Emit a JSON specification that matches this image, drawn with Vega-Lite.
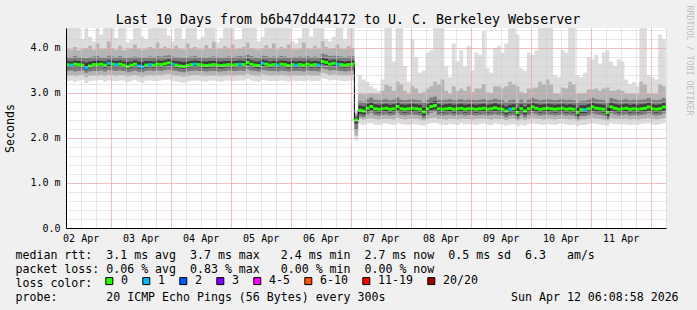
{
"$schema": "https://vega.github.io/schema/vega-lite/v6.json",
"width": 600, "height": 200,
"autosize": {"type": "none"},
"padding": {"left": 66, "top": 28, "right": 31, "bottom": 82},
"background": "#f0f0f0",
"title": {"text": "Last 10 Days from b6b47dd44172 to U. C. Berkeley Webserver", "font": "DejaVu Sans Mono", "fontSize": 13.3, "fontWeight": "normal", "color": "black", "anchor": "middle", "dx": -18, "dy": 32, "baseline": "alphabetic", "offset": 0},
"data": {"values": [
{"t":"2026-04-02T06:00:00Z","m":3.63,"l":"0","a":3.26,"b":3.38,"c":3.49,"d":3.57,"e":3.71,"f":3.8,"g":3.98,"h":4.5},
{"t":"2026-04-02T07:30:00Z","m":3.62,"l":"1","a":3.28,"b":3.39,"c":3.5,"d":3.57,"e":3.7,"f":3.79,"g":3.96,"h":4.5},
{"t":"2026-04-02T09:00:00Z","m":3.64,"l":"0","a":3.25,"b":3.37,"c":3.48,"d":3.58,"e":3.72,"f":3.82,"g":4.02,"h":4.5},
{"t":"2026-04-02T10:30:00Z","m":3.63,"l":"0","a":3.27,"b":3.39,"c":3.49,"d":3.57,"e":3.71,"f":3.8,"g":3.95,"h":4.5},
{"t":"2026-04-02T12:00:00Z","m":3.62,"l":"0","a":3.29,"b":3.4,"c":3.5,"d":3.57,"e":3.7,"f":3.79,"g":3.97,"h":4.2},
{"t":"2026-04-02T13:30:00Z","m":3.56,"l":"1","a":3.22,"b":3.35,"c":3.45,"d":3.51,"e":3.68,"f":3.78,"g":3.99,"h":4.5},
{"t":"2026-04-02T15:00:00Z","m":3.6,"l":"0","a":3.26,"b":3.38,"c":3.48,"d":3.55,"e":3.7,"f":3.8,"g":4.05,"h":4.25},
{"t":"2026-04-02T16:30:00Z","m":3.63,"l":"0","a":3.28,"b":3.39,"c":3.49,"d":3.57,"e":3.71,"f":3.81,"g":3.96,"h":4.15},
{"t":"2026-04-02T18:00:00Z","m":3.63,"l":"0","a":3.27,"b":3.38,"c":3.49,"d":3.57,"e":3.72,"f":3.82,"g":4.1,"h":4.5},
{"t":"2026-04-02T19:30:00Z","m":3.64,"l":"0","a":3.29,"b":3.4,"c":3.5,"d":3.58,"e":3.71,"f":3.8,"g":3.97,"h":4.3},
{"t":"2026-04-02T21:00:00Z","m":3.62,"l":"0","a":3.25,"b":3.37,"c":3.48,"d":3.56,"e":3.7,"f":3.79,"g":3.98,"h":4.5},
{"t":"2026-04-02T22:30:00Z","m":3.66,"l":"1","a":3.28,"b":3.4,"c":3.51,"d":3.59,"e":3.73,"f":3.83,"g":4.15,"h":4.5},
{"t":"2026-04-03T00:00:00Z","m":3.64,"l":"0","a":3.27,"b":3.39,"c":3.5,"d":3.58,"e":3.72,"f":3.81,"g":4.0,"h":4.5},
{"t":"2026-04-03T01:30:00Z","m":3.63,"l":"1","a":3.26,"b":3.38,"c":3.49,"d":3.57,"e":3.71,"f":3.8,"g":3.96,"h":4.22},
{"t":"2026-04-03T03:00:00Z","m":3.64,"l":"0","a":3.28,"b":3.4,"c":3.5,"d":3.58,"e":3.72,"f":3.82,"g":4.05,"h":4.5},
{"t":"2026-04-03T04:30:00Z","m":3.62,"l":"0","a":3.27,"b":3.39,"c":3.49,"d":3.57,"e":3.7,"f":3.79,"g":3.95,"h":4.5},
{"t":"2026-04-03T06:00:00Z","m":3.59,"l":"0","a":3.24,"b":3.36,"c":3.46,"d":3.54,"e":3.69,"f":3.79,"g":3.97,"h":4.12},
{"t":"2026-04-03T07:30:00Z","m":3.62,"l":"0","a":3.26,"b":3.38,"c":3.48,"d":3.56,"e":3.7,"f":3.8,"g":3.99,"h":4.18},
{"t":"2026-04-03T09:00:00Z","m":3.64,"l":"0","a":3.29,"b":3.4,"c":3.5,"d":3.58,"e":3.72,"f":3.81,"g":4.08,"h":4.5},
{"t":"2026-04-03T10:30:00Z","m":3.6,"l":"1","a":3.25,"b":3.37,"c":3.47,"d":3.55,"e":3.7,"f":3.8,"g":3.98,"h":4.5},
{"t":"2026-04-03T12:00:00Z","m":3.58,"l":"1","a":3.23,"b":3.35,"c":3.46,"d":3.53,"e":3.69,"f":3.79,"g":3.96,"h":4.25},
{"t":"2026-04-03T13:30:00Z","m":3.62,"l":"0","a":3.27,"b":3.38,"c":3.49,"d":3.56,"e":3.71,"f":3.8,"g":3.97,"h":4.2},
{"t":"2026-04-03T15:00:00Z","m":3.63,"l":"1","a":3.28,"b":3.39,"c":3.5,"d":3.57,"e":3.71,"f":3.81,"g":4.02,"h":4.5},
{"t":"2026-04-03T16:30:00Z","m":3.62,"l":"0","a":3.26,"b":3.38,"c":3.49,"d":3.56,"e":3.7,"f":3.8,"g":3.98,"h":4.5},
{"t":"2026-04-03T18:00:00Z","m":3.64,"l":"0","a":3.27,"b":3.4,"c":3.5,"d":3.58,"e":3.72,"f":3.82,"g":4.12,"h":4.5},
{"t":"2026-04-03T19:30:00Z","m":3.63,"l":"0","a":3.28,"b":3.39,"c":3.49,"d":3.57,"e":3.71,"f":3.81,"g":3.99,"h":4.5},
{"t":"2026-04-03T21:00:00Z","m":3.65,"l":"0","a":3.29,"b":3.41,"c":3.51,"d":3.59,"e":3.73,"f":3.83,"g":4.03,"h":4.5},
{"t":"2026-04-03T22:30:00Z","m":3.67,"l":"0","a":3.3,"b":3.42,"c":3.52,"d":3.61,"e":3.75,"f":3.84,"g":4.0,"h":4.28},
{"t":"2026-04-04T00:00:00Z","m":3.64,"l":"1","a":3.27,"b":3.39,"c":3.5,"d":3.58,"e":3.72,"f":3.81,"g":3.97,"h":4.15},
{"t":"2026-04-04T01:30:00Z","m":3.62,"l":"0","a":3.26,"b":3.38,"c":3.49,"d":3.56,"e":3.71,"f":3.8,"g":4.05,"h":4.5},
{"t":"2026-04-04T03:00:00Z","m":3.6,"l":"0","a":3.24,"b":3.37,"c":3.47,"d":3.55,"e":3.7,"f":3.8,"g":3.98,"h":4.5},
{"t":"2026-04-04T04:30:00Z","m":3.59,"l":"0","a":3.23,"b":3.36,"c":3.46,"d":3.54,"e":3.69,"f":3.79,"g":3.96,"h":4.2},
{"t":"2026-04-04T06:00:00Z","m":3.61,"l":"0","a":3.25,"b":3.37,"c":3.48,"d":3.56,"e":3.7,"f":3.8,"g":4.1,"h":4.5},
{"t":"2026-04-04T07:30:00Z","m":3.63,"l":"0","a":3.27,"b":3.39,"c":3.49,"d":3.57,"e":3.71,"f":3.81,"g":3.99,"h":4.5},
{"t":"2026-04-04T09:00:00Z","m":3.64,"l":"1","a":3.28,"b":3.4,"c":3.5,"d":3.58,"e":3.72,"f":3.82,"g":4.02,"h":4.5},
{"t":"2026-04-04T10:30:00Z","m":3.63,"l":"0","a":3.27,"b":3.39,"c":3.49,"d":3.57,"e":3.71,"f":3.8,"g":3.97,"h":4.18},
{"t":"2026-04-04T12:00:00Z","m":3.62,"l":"0","a":3.26,"b":3.38,"c":3.49,"d":3.56,"e":3.7,"f":3.8,"g":3.96,"h":4.25},
{"t":"2026-04-04T13:30:00Z","m":3.61,"l":"0","a":3.25,"b":3.37,"c":3.48,"d":3.55,"e":3.7,"f":3.79,"g":4.06,"h":4.5},
{"t":"2026-04-04T15:00:00Z","m":3.62,"l":"0","a":3.27,"b":3.38,"c":3.49,"d":3.56,"e":3.71,"f":3.8,"g":3.98,"h":4.5},
{"t":"2026-04-04T16:30:00Z","m":3.63,"l":"0","a":3.28,"b":3.39,"c":3.49,"d":3.57,"e":3.71,"f":3.81,"g":4.14,"h":4.5},
{"t":"2026-04-04T18:00:00Z","m":3.62,"l":"0","a":3.26,"b":3.38,"c":3.48,"d":3.56,"e":3.7,"f":3.8,"g":3.97,"h":4.12},
{"t":"2026-04-04T19:30:00Z","m":3.61,"l":"0","a":3.25,"b":3.37,"c":3.48,"d":3.55,"e":3.7,"f":3.79,"g":3.98,"h":4.22},
{"t":"2026-04-04T21:00:00Z","m":3.62,"l":"0","a":3.27,"b":3.38,"c":3.49,"d":3.56,"e":3.71,"f":3.8,"g":4.04,"h":4.5},
{"t":"2026-04-04T22:30:00Z","m":3.63,"l":"0","a":3.28,"b":3.39,"c":3.5,"d":3.57,"e":3.71,"f":3.81,"g":3.99,"h":4.5},
{"t":"2026-04-05T00:00:00Z","m":3.62,"l":"0","a":3.26,"b":3.38,"c":3.49,"d":3.56,"e":3.7,"f":3.8,"g":4.08,"h":4.5},
{"t":"2026-04-05T01:30:00Z","m":3.63,"l":"0","a":3.27,"b":3.39,"c":3.49,"d":3.57,"e":3.71,"f":3.81,"g":3.97,"h":4.18},
{"t":"2026-04-05T03:00:00Z","m":3.64,"l":"1","a":3.28,"b":3.4,"c":3.5,"d":3.58,"e":3.72,"f":3.82,"g":3.98,"h":4.2},
{"t":"2026-04-05T04:30:00Z","m":3.63,"l":"0","a":3.27,"b":3.39,"c":3.49,"d":3.57,"e":3.71,"f":3.81,"g":4.02,"h":4.5},
{"t":"2026-04-05T06:00:00Z","m":3.68,"l":"0","a":3.31,"b":3.43,"c":3.53,"d":3.62,"e":3.76,"f":3.85,"g":4.12,"h":4.5},
{"t":"2026-04-05T07:30:00Z","m":3.64,"l":"0","a":3.28,"b":3.4,"c":3.5,"d":3.58,"e":3.72,"f":3.82,"g":4.0,"h":4.5},
{"t":"2026-04-05T09:00:00Z","m":3.62,"l":"0","a":3.26,"b":3.38,"c":3.49,"d":3.56,"e":3.7,"f":3.8,"g":3.97,"h":4.5},
{"t":"2026-04-05T10:30:00Z","m":3.61,"l":"0","a":3.25,"b":3.37,"c":3.48,"d":3.55,"e":3.7,"f":3.79,"g":3.96,"h":4.15},
{"t":"2026-04-05T12:00:00Z","m":3.66,"l":"1","a":3.29,"b":3.41,"c":3.51,"d":3.6,"e":3.74,"f":3.83,"g":3.99,"h":4.25},
{"t":"2026-04-05T13:30:00Z","m":3.64,"l":"0","a":3.28,"b":3.4,"c":3.5,"d":3.58,"e":3.72,"f":3.82,"g":4.06,"h":4.5},
{"t":"2026-04-05T15:00:00Z","m":3.62,"l":"0","a":3.26,"b":3.38,"c":3.49,"d":3.56,"e":3.7,"f":3.8,"g":3.98,"h":4.5},
{"t":"2026-04-05T16:30:00Z","m":3.63,"l":"0","a":3.27,"b":3.39,"c":3.49,"d":3.57,"e":3.71,"f":3.81,"g":4.1,"h":4.5},
{"t":"2026-04-05T18:00:00Z","m":3.62,"l":"1","a":3.26,"b":3.38,"c":3.48,"d":3.56,"e":3.7,"f":3.8,"g":3.97,"h":4.5},
{"t":"2026-04-05T19:30:00Z","m":3.64,"l":"0","a":3.28,"b":3.4,"c":3.5,"d":3.58,"e":3.72,"f":3.82,"g":4.03,"h":4.5},
{"t":"2026-04-05T21:00:00Z","m":3.63,"l":"0","a":3.27,"b":3.39,"c":3.49,"d":3.57,"e":3.71,"f":3.81,"g":3.99,"h":4.5},
{"t":"2026-04-05T22:30:00Z","m":3.61,"l":"0","a":3.25,"b":3.37,"c":3.48,"d":3.55,"e":3.7,"f":3.79,"g":4.08,"h":4.5},
{"t":"2026-04-06T00:00:00Z","m":3.63,"l":"0","a":3.27,"b":3.39,"c":3.49,"d":3.57,"e":3.71,"f":3.8,"g":3.97,"h":4.15},
{"t":"2026-04-06T01:30:00Z","m":3.62,"l":"1","a":3.26,"b":3.38,"c":3.49,"d":3.56,"e":3.7,"f":3.8,"g":3.96,"h":4.1},
{"t":"2026-04-06T03:00:00Z","m":3.63,"l":"0","a":3.27,"b":3.39,"c":3.49,"d":3.57,"e":3.71,"f":3.81,"g":3.98,"h":4.22},
{"t":"2026-04-06T04:30:00Z","m":3.62,"l":"0","a":3.26,"b":3.38,"c":3.48,"d":3.56,"e":3.7,"f":3.8,"g":4.12,"h":4.5},
{"t":"2026-04-06T06:00:00Z","m":3.64,"l":"0","a":3.28,"b":3.4,"c":3.5,"d":3.58,"e":3.72,"f":3.82,"g":4.0,"h":4.5},
{"t":"2026-04-06T07:30:00Z","m":3.62,"l":"0","a":3.26,"b":3.38,"c":3.49,"d":3.56,"e":3.7,"f":3.8,"g":3.97,"h":4.25},
{"t":"2026-04-06T09:00:00Z","m":3.63,"l":"0","a":3.27,"b":3.39,"c":3.49,"d":3.57,"e":3.71,"f":3.81,"g":4.05,"h":4.5},
{"t":"2026-04-06T10:30:00Z","m":3.62,"l":"1","a":3.26,"b":3.38,"c":3.48,"d":3.56,"e":3.7,"f":3.8,"g":3.98,"h":4.5},
{"t":"2026-04-06T12:00:00Z","m":3.7,"l":"0","a":3.33,"b":3.45,"c":3.55,"d":3.64,"e":3.78,"f":3.87,"g":4.15,"h":4.5},
{"t":"2026-04-06T13:30:00Z","m":3.68,"l":"0","a":3.31,"b":3.43,"c":3.53,"d":3.62,"e":3.76,"f":3.85,"g":4.02,"h":4.2},
{"t":"2026-04-06T15:00:00Z","m":3.64,"l":"0","a":3.28,"b":3.4,"c":3.5,"d":3.58,"e":3.72,"f":3.82,"g":3.99,"h":4.15},
{"t":"2026-04-06T16:30:00Z","m":3.66,"l":"0","a":3.29,"b":3.41,"c":3.51,"d":3.6,"e":3.74,"f":3.83,"g":4.0,"h":4.25},
{"t":"2026-04-06T18:00:00Z","m":3.64,"l":"1","a":3.28,"b":3.4,"c":3.5,"d":3.58,"e":3.72,"f":3.82,"g":4.08,"h":4.5},
{"t":"2026-04-06T19:30:00Z","m":3.63,"l":"0","a":3.27,"b":3.39,"c":3.49,"d":3.57,"e":3.71,"f":3.81,"g":3.98,"h":4.5},
{"t":"2026-04-06T21:00:00Z","m":3.62,"l":"0","a":3.26,"b":3.38,"c":3.48,"d":3.56,"e":3.7,"f":3.8,"g":3.97,"h":4.2},
{"t":"2026-04-06T22:30:00Z","m":3.63,"l":"0","a":3.27,"b":3.39,"c":3.49,"d":3.57,"e":3.71,"f":3.81,"g":4.04,"h":4.5},
{"t":"2026-04-07T00:00:00Z","m":3.64,"l":"0","a":3.28,"b":3.4,"c":3.5,"d":3.58,"e":3.72,"f":3.82,"g":4.0,"h":4.5},
{"t":"2026-04-07T01:30:00Z","m":2.4,"l":"0","a":1.95,"b":2.05,"c":2.18,"d":2.32,"e":2.45,"f":2.5,"g":2.55,"h":2.6},
{"t":"2026-04-07T03:00:00Z","m":2.62,"l":"0","a":2.31,"b":2.42,"c":2.48,"d":2.54,"e":2.72,"f":2.82,"g":2.98,"h":3.4},
{"t":"2026-04-07T04:30:00Z","m":2.6,"l":"0","a":2.29,"b":2.41,"c":2.46,"d":2.52,"e":2.7,"f":2.8,"g":2.97,"h":3.3},
{"t":"2026-04-07T06:00:00Z","m":2.66,"l":"0","a":2.32,"b":2.43,"c":2.52,"d":2.58,"e":2.76,"f":2.86,"g":2.99,"h":3.25},
{"t":"2026-04-07T07:30:00Z","m":2.7,"l":"0","a":2.33,"b":2.44,"c":2.56,"d":2.62,"e":2.8,"f":2.9,"g":3.0,"h":3.15},
{"t":"2026-04-07T09:00:00Z","m":2.65,"l":"0","a":2.3,"b":2.42,"c":2.51,"d":2.57,"e":2.75,"f":2.85,"g":2.98,"h":3.1},
{"t":"2026-04-07T10:30:00Z","m":2.64,"l":"0","a":2.29,"b":2.41,"c":2.5,"d":2.56,"e":2.74,"f":2.84,"g":2.97,"h":3.05},
{"t":"2026-04-07T12:00:00Z","m":2.65,"l":"0","a":2.31,"b":2.42,"c":2.51,"d":2.57,"e":2.75,"f":2.85,"g":3.05,"h":3.3},
{"t":"2026-04-07T13:30:00Z","m":2.66,"l":"0","a":2.32,"b":2.43,"c":2.52,"d":2.58,"e":2.76,"f":2.86,"g":3.2,"h":4.5},
{"t":"2026-04-07T15:00:00Z","m":2.64,"l":"0","a":2.3,"b":2.42,"c":2.5,"d":2.56,"e":2.74,"f":2.84,"g":3.15,"h":4.5},
{"t":"2026-04-07T16:30:00Z","m":2.65,"l":"0","a":2.29,"b":2.41,"c":2.51,"d":2.57,"e":2.75,"f":2.85,"g":3.05,"h":3.7},
{"t":"2026-04-07T18:00:00Z","m":2.7,"l":"0","a":2.33,"b":2.45,"c":2.56,"d":2.62,"e":2.8,"f":2.9,"g":3.25,"h":4.5},
{"t":"2026-04-07T19:30:00Z","m":2.65,"l":"0","a":2.31,"b":2.42,"c":2.51,"d":2.57,"e":2.75,"f":2.85,"g":3.2,"h":4.5},
{"t":"2026-04-07T21:00:00Z","m":2.64,"l":"0","a":2.3,"b":2.41,"c":2.5,"d":2.56,"e":2.74,"f":2.84,"g":3.05,"h":3.6},
{"t":"2026-04-07T22:30:00Z","m":2.65,"l":"0","a":2.29,"b":2.42,"c":2.51,"d":2.57,"e":2.75,"f":2.85,"g":2.98,"h":3.25},
{"t":"2026-04-08T00:00:00Z","m":2.66,"l":"0","a":2.31,"b":2.43,"c":2.52,"d":2.58,"e":2.76,"f":2.86,"g":3.15,"h":4.2},
{"t":"2026-04-08T01:30:00Z","m":2.65,"l":"0","a":2.3,"b":2.42,"c":2.51,"d":2.57,"e":2.75,"f":2.85,"g":3.1,"h":3.8},
{"t":"2026-04-08T03:00:00Z","m":2.64,"l":"0","a":2.29,"b":2.41,"c":2.5,"d":2.56,"e":2.74,"f":2.84,"g":3.0,"h":3.45},
{"t":"2026-04-08T04:30:00Z","m":2.58,"l":"0","a":2.27,"b":2.39,"c":2.44,"d":2.5,"e":2.68,"f":2.8,"g":3.02,"h":3.5},
{"t":"2026-04-08T06:00:00Z","m":2.65,"l":"0","a":2.31,"b":2.42,"c":2.51,"d":2.57,"e":2.75,"f":2.85,"g":3.1,"h":3.9},
{"t":"2026-04-08T07:30:00Z","m":2.7,"l":"0","a":2.33,"b":2.44,"c":2.56,"d":2.62,"e":2.8,"f":2.9,"g":3.15,"h":3.95},
{"t":"2026-04-08T09:00:00Z","m":2.72,"l":"0","a":2.34,"b":2.45,"c":2.58,"d":2.64,"e":2.82,"f":2.92,"g":3.25,"h":4.5},
{"t":"2026-04-08T10:30:00Z","m":2.65,"l":"0","a":2.31,"b":2.42,"c":2.51,"d":2.57,"e":2.75,"f":2.85,"g":3.2,"h":4.5},
{"t":"2026-04-08T12:00:00Z","m":2.64,"l":"0","a":2.3,"b":2.42,"c":2.5,"d":2.56,"e":2.74,"f":2.84,"g":3.3,"h":4.5},
{"t":"2026-04-08T13:30:00Z","m":2.65,"l":"0","a":2.29,"b":2.41,"c":2.51,"d":2.57,"e":2.75,"f":2.85,"g":3.05,"h":3.6},
{"t":"2026-04-08T15:00:00Z","m":2.66,"l":"0","a":2.31,"b":2.43,"c":2.52,"d":2.58,"e":2.76,"f":2.86,"g":2.99,"h":3.35},
{"t":"2026-04-08T16:30:00Z","m":2.64,"l":"0","a":2.3,"b":2.42,"c":2.5,"d":2.56,"e":2.74,"f":2.84,"g":3.15,"h":4.1},
{"t":"2026-04-08T18:00:00Z","m":2.65,"l":"0","a":2.29,"b":2.41,"c":2.51,"d":2.57,"e":2.75,"f":2.85,"g":3.05,"h":3.7},
{"t":"2026-04-08T19:30:00Z","m":2.66,"l":"0","a":2.32,"b":2.43,"c":2.52,"d":2.58,"e":2.76,"f":2.86,"g":3.1,"h":3.95},
{"t":"2026-04-08T21:00:00Z","m":2.64,"l":"0","a":2.3,"b":2.42,"c":2.5,"d":2.56,"e":2.74,"f":2.84,"g":3.05,"h":3.6},
{"t":"2026-04-08T22:30:00Z","m":2.65,"l":"0","a":2.31,"b":2.42,"c":2.51,"d":2.57,"e":2.75,"f":2.85,"g":3.15,"h":4.05},
{"t":"2026-04-09T00:00:00Z","m":2.65,"l":"0","a":2.3,"b":2.41,"c":2.51,"d":2.57,"e":2.75,"f":2.85,"g":3.02,"h":3.5},
{"t":"2026-04-09T01:30:00Z","m":2.64,"l":"0","a":2.29,"b":2.42,"c":2.5,"d":2.56,"e":2.74,"f":2.84,"g":3.1,"h":3.9},
{"t":"2026-04-09T03:00:00Z","m":2.65,"l":"0","a":2.31,"b":2.43,"c":2.51,"d":2.57,"e":2.75,"f":2.85,"g":3.1,"h":3.85},
{"t":"2026-04-09T04:30:00Z","m":2.66,"l":"0","a":2.32,"b":2.43,"c":2.52,"d":2.58,"e":2.76,"f":2.86,"g":3.2,"h":4.38},
{"t":"2026-04-09T06:00:00Z","m":2.64,"l":"0","a":2.3,"b":2.42,"c":2.5,"d":2.56,"e":2.74,"f":2.84,"g":3.02,"h":3.55},
{"t":"2026-04-09T07:30:00Z","m":2.65,"l":"0","a":2.29,"b":2.41,"c":2.51,"d":2.57,"e":2.75,"f":2.85,"g":3.0,"h":3.45},
{"t":"2026-04-09T09:00:00Z","m":2.67,"l":"0","a":2.32,"b":2.43,"c":2.53,"d":2.59,"e":2.77,"f":2.87,"g":3.15,"h":4.0},
{"t":"2026-04-09T10:30:00Z","m":2.65,"l":"0","a":2.31,"b":2.42,"c":2.51,"d":2.57,"e":2.75,"f":2.85,"g":3.15,"h":4.05},
{"t":"2026-04-09T12:00:00Z","m":2.64,"l":"0","a":2.3,"b":2.42,"c":2.5,"d":2.56,"e":2.74,"f":2.84,"g":3.1,"h":3.9},
{"t":"2026-04-09T13:30:00Z","m":2.6,"l":"0","a":2.28,"b":2.4,"c":2.46,"d":2.52,"e":2.7,"f":2.8,"g":3.15,"h":4.1},
{"t":"2026-04-09T15:00:00Z","m":2.64,"l":"1","a":2.3,"b":2.42,"c":2.5,"d":2.56,"e":2.74,"f":2.84,"g":3.25,"h":4.5},
{"t":"2026-04-09T16:30:00Z","m":2.65,"l":"0","a":2.31,"b":2.42,"c":2.51,"d":2.57,"e":2.75,"f":2.85,"g":3.2,"h":4.5},
{"t":"2026-04-09T18:00:00Z","m":2.57,"l":"0","a":2.27,"b":2.39,"c":2.43,"d":2.49,"e":2.67,"f":2.79,"g":3.15,"h":4.3},
{"t":"2026-04-09T19:30:00Z","m":2.65,"l":"0","a":2.3,"b":2.42,"c":2.51,"d":2.57,"e":2.75,"f":2.85,"g":3.02,"h":3.55},
{"t":"2026-04-09T21:00:00Z","m":2.6,"l":"0","a":2.28,"b":2.4,"c":2.46,"d":2.52,"e":2.7,"f":2.8,"g":3.0,"h":3.5},
{"t":"2026-04-09T22:30:00Z","m":2.65,"l":"0","a":2.31,"b":2.42,"c":2.51,"d":2.57,"e":2.75,"f":2.85,"g":3.1,"h":3.9},
{"t":"2026-04-10T00:00:00Z","m":2.69,"l":"0","a":2.33,"b":2.44,"c":2.55,"d":2.61,"e":2.79,"f":2.89,"g":3.1,"h":3.85},
{"t":"2026-04-10T01:30:00Z","m":2.66,"l":"0","a":2.31,"b":2.43,"c":2.52,"d":2.58,"e":2.76,"f":2.86,"g":3.12,"h":3.95},
{"t":"2026-04-10T03:00:00Z","m":2.64,"l":"0","a":2.3,"b":2.42,"c":2.5,"d":2.56,"e":2.74,"f":2.84,"g":3.25,"h":4.5},
{"t":"2026-04-10T04:30:00Z","m":2.65,"l":"0","a":2.29,"b":2.41,"c":2.51,"d":2.57,"e":2.75,"f":2.85,"g":3.2,"h":4.5},
{"t":"2026-04-10T06:00:00Z","m":2.66,"l":"0","a":2.31,"b":2.43,"c":2.52,"d":2.58,"e":2.76,"f":2.86,"g":3.3,"h":4.5},
{"t":"2026-04-10T07:30:00Z","m":2.65,"l":"0","a":2.3,"b":2.42,"c":2.51,"d":2.57,"e":2.75,"f":2.85,"g":3.2,"h":4.5},
{"t":"2026-04-10T09:00:00Z","m":2.64,"l":"0","a":2.29,"b":2.41,"c":2.5,"d":2.56,"e":2.74,"f":2.84,"g":2.99,"h":3.4},
{"t":"2026-04-10T10:30:00Z","m":2.65,"l":"0","a":2.31,"b":2.42,"c":2.51,"d":2.57,"e":2.75,"f":2.85,"g":2.98,"h":3.35},
{"t":"2026-04-10T12:00:00Z","m":2.66,"l":"0","a":2.32,"b":2.43,"c":2.52,"d":2.58,"e":2.76,"f":2.86,"g":3.12,"h":3.95},
{"t":"2026-04-10T13:30:00Z","m":2.64,"l":"0","a":2.3,"b":2.42,"c":2.5,"d":2.56,"e":2.74,"f":2.84,"g":3.1,"h":3.9},
{"t":"2026-04-10T15:00:00Z","m":2.65,"l":"0","a":2.29,"b":2.41,"c":2.51,"d":2.57,"e":2.75,"f":2.85,"g":3.25,"h":4.5},
{"t":"2026-04-10T16:30:00Z","m":2.64,"l":"0","a":2.3,"b":2.42,"c":2.5,"d":2.56,"e":2.74,"f":2.84,"g":3.2,"h":4.5},
{"t":"2026-04-10T18:00:00Z","m":2.57,"l":"0","a":2.26,"b":2.38,"c":2.43,"d":2.49,"e":2.67,"f":2.79,"g":2.99,"h":3.4},
{"t":"2026-04-10T19:30:00Z","m":2.63,"l":"0","a":2.29,"b":2.41,"c":2.49,"d":2.55,"e":2.73,"f":2.83,"g":2.98,"h":3.35},
{"t":"2026-04-10T21:00:00Z","m":2.63,"l":"1","a":2.29,"b":2.41,"c":2.49,"d":2.55,"e":2.73,"f":2.83,"g":3.0,"h":3.45},
{"t":"2026-04-10T22:30:00Z","m":2.65,"l":"0","a":2.31,"b":2.42,"c":2.51,"d":2.57,"e":2.75,"f":2.85,"g":3.08,"h":3.8},
{"t":"2026-04-11T00:00:00Z","m":2.69,"l":"0","a":2.33,"b":2.44,"c":2.55,"d":2.61,"e":2.79,"f":2.89,"g":3.08,"h":3.75},
{"t":"2026-04-11T01:30:00Z","m":2.66,"l":"0","a":2.31,"b":2.43,"c":2.52,"d":2.58,"e":2.76,"f":2.86,"g":3.1,"h":3.85},
{"t":"2026-04-11T03:00:00Z","m":2.65,"l":"0","a":2.3,"b":2.42,"c":2.51,"d":2.57,"e":2.75,"f":2.85,"g":3.05,"h":3.65},
{"t":"2026-04-11T04:30:00Z","m":2.64,"l":"0","a":2.29,"b":2.41,"c":2.5,"d":2.56,"e":2.74,"f":2.84,"g":3.1,"h":3.9},
{"t":"2026-04-11T06:00:00Z","m":2.57,"l":"0","a":2.27,"b":2.39,"c":2.43,"d":2.49,"e":2.67,"f":2.79,"g":3.12,"h":3.95},
{"t":"2026-04-11T07:30:00Z","m":2.69,"l":"0","a":2.33,"b":2.44,"c":2.55,"d":2.61,"e":2.79,"f":2.89,"g":3.05,"h":3.7},
{"t":"2026-04-11T09:00:00Z","m":2.66,"l":"0","a":2.31,"b":2.43,"c":2.52,"d":2.58,"e":2.76,"f":2.86,"g":3.05,"h":3.6},
{"t":"2026-04-11T10:30:00Z","m":2.64,"l":"0","a":2.3,"b":2.42,"c":2.5,"d":2.56,"e":2.74,"f":2.84,"g":3.08,"h":3.75},
{"t":"2026-04-11T12:00:00Z","m":2.65,"l":"0","a":2.31,"b":2.42,"c":2.51,"d":2.57,"e":2.75,"f":2.85,"g":3.05,"h":3.7},
{"t":"2026-04-11T13:30:00Z","m":2.66,"l":"0","a":2.3,"b":2.43,"c":2.52,"d":2.58,"e":2.76,"f":2.86,"g":2.99,"h":3.3},
{"t":"2026-04-11T15:00:00Z","m":2.64,"l":"0","a":2.29,"b":2.41,"c":2.5,"d":2.56,"e":2.74,"f":2.84,"g":2.98,"h":3.2},
{"t":"2026-04-11T16:30:00Z","m":2.65,"l":"0","a":2.3,"b":2.42,"c":2.51,"d":2.57,"e":2.75,"f":2.85,"g":2.99,"h":3.25},
{"t":"2026-04-11T18:00:00Z","m":2.64,"l":"0","a":2.29,"b":2.41,"c":2.5,"d":2.56,"e":2.74,"f":2.84,"g":2.97,"h":3.15},
{"t":"2026-04-11T19:30:00Z","m":2.65,"l":"0","a":2.31,"b":2.42,"c":2.51,"d":2.57,"e":2.75,"f":2.85,"g":3.25,"h":4.5},
{"t":"2026-04-11T21:00:00Z","m":2.66,"l":"0","a":2.32,"b":2.43,"c":2.52,"d":2.58,"e":2.76,"f":2.86,"g":3.2,"h":4.5},
{"t":"2026-04-11T22:30:00Z","m":2.69,"l":"0","a":2.33,"b":2.44,"c":2.55,"d":2.61,"e":2.79,"f":2.89,"g":3.0,"h":3.4},
{"t":"2026-04-12T00:00:00Z","m":2.65,"l":"0","a":2.3,"b":2.42,"c":2.51,"d":2.57,"e":2.75,"f":2.85,"g":2.99,"h":3.35},
{"t":"2026-04-12T01:30:00Z","m":2.64,"l":"0","a":2.29,"b":2.41,"c":2.5,"d":2.56,"e":2.74,"f":2.84,"g":2.98,"h":3.3},
{"t":"2026-04-12T03:00:00Z","m":2.65,"l":"0","a":2.31,"b":2.42,"c":2.51,"d":2.57,"e":2.75,"f":2.85,"g":3.2,"h":4.3},
{"t":"2026-04-12T04:30:00Z","m":2.69,"l":"0","a":2.33,"b":2.44,"c":2.55,"d":2.61,"e":2.79,"f":2.89,"g":3.15,"h":4.2},
{"t":"2026-04-12T06:00:00Z","m":2.69,"l":"0","a":2.33,"b":2.44,"c":2.55,"d":2.61,"e":2.79,"f":2.89,"g":3.15,"h":4.2}
]},
"encoding": {
  "x": {"field": "t", "type": "temporal", "axis": null,
    "scale": {"type": "utc", "nice": false, "domain": [{"year": 2026, "month": 4, "date": 2, "hours": 6, "minutes": 8, "seconds": 58, "utc": true}, {"year": 2026, "month": 4, "date": 12, "hours": 6, "minutes": 8, "seconds": 58, "utc": true}]}}
},
"layer": [
  {"mark": {"type": "area", "interpolate": "step-after", "color": "#dcdcdc", "opacity": 1, "clip": true},
   "encoding": {
     "x": {"field": "t", "type": "temporal",
       "scale": {"type": "utc", "nice": false, "domain": [{"year": 2026, "month": 4, "date": 2, "hours": 6, "minutes": 8, "seconds": 58, "utc": true}, {"year": 2026, "month": 4, "date": 12, "hours": 6, "minutes": 8, "seconds": 58, "utc": true}]},
       "axis": {"orient": "bottom",
         "title": ["median rtt: \u00a03.1 ms avg \u00a03.7 ms max \u00a0\u00a02.4 ms min \u00a02.7 ms now \u00a00.5 ms sd \u00a06.3 \u00a0\u00a0am/s", "packet loss: 0.06 % avg \u00a00.83 % max \u00a0\u00a00.00 % min \u00a00.00 % now", "loss color:", "probe: \u00a0\u00a0\u00a0\u00a0\u00a0\u00a020 ICMP Echo Pings (56 Bytes) every 300s \u00a0\u00a0\u00a0\u00a0\u00a0\u00a0\u00a0\u00a0\u00a0\u00a0\u00a0\u00a0\u00a0\u00a0\u00a0\u00a0\u00a0Sun Apr 12 06:08:58 2026"],
         "titleFont": "DejaVu Sans Mono", "titleFontSize": 11.6, "titleFontWeight": "normal", "titleColor": "black",
         "titleAlign": "left", "titleBaseline": "alphabetic", "titleLineHeight": 14, "titleX": -51, "titleY": 30,
         "tickCount": 40, "grid": true, "gridColor": "#cfcfcf", "gridDash": [1, 1], "gridWidth": 1, "gridOpacity": 1,
         "labelExpr": "utchours(datum.value) == 12 ? utcFormat(datum.value, '%d %b') : ''",
         "labelFont": "DejaVu Sans Mono", "labelFontSize": 10, "labelColor": "black", "labelPadding": 5, "labelOverlap": false, "labelFlush": false, "labelBound": false,
         "ticks": false, "domain": false, "zindex": 1}},
     "y": {"field": "a", "type": "quantitative", "scale": {"domain": [0, 4.4444], "nice": false, "zero": false},
       "axis": {"orient": "left", "title": null,
         "values": [0, 0.2, 0.4, 0.6, 0.8, 1, 1.2, 1.4, 1.6, 1.8, 2, 2.2, 2.4, 2.6, 2.8, 3, 3.2, 3.4, 3.6, 3.8, 4, 4.2, 4.4],
         "grid": true, "gridColor": "#cfcfcf", "gridDash": [1, 1], "gridWidth": 1, "gridOpacity": 1,
         "labelExpr": "abs(datum.value - round(datum.value)) < 0.01 ? (datum.value == 0 ? '0.0' : format(datum.value, '.1f') + ' m') : ''",
         "labelFont": "DejaVu Sans Mono", "labelFontSize": 10, "labelColor": "black", "labelPadding": 6, "labelOverlap": false, "labelBound": false, "labelFlush": false,
         "ticks": false, "domain": false, "zindex": 1}},
     "y2": {"field": "h"}}},
  {"mark": {"type": "area", "interpolate": "step-after", "color": "#b4b4b4", "opacity": 1, "clip": true},
   "encoding": {
     "x": {"field": "t", "type": "temporal",
       "scale": {"type": "utc", "nice": false, "domain": [{"year": 2026, "month": 4, "date": 2, "hours": 6, "minutes": 8, "seconds": 58, "utc": true}, {"year": 2026, "month": 4, "date": 12, "hours": 6, "minutes": 8, "seconds": 58, "utc": true}]},
       "axis": {"orient": "bottom", "title": null, "tickCount": 10, "grid": true, "gridColor": "#f39b9b", "gridDash": [1, 1], "gridWidth": 1, "gridOpacity": 1, "labels": false, "ticks": false, "domain": false, "zindex": 2}},
     "y": {"field": "b", "type": "quantitative", "scale": {"domain": [0, 4.4444], "nice": false, "zero": false},
       "axis": {"orient": "left", "title": null, "values": [1, 2, 3, 4], "grid": true, "gridColor": "#f39b9b", "gridDash": [1, 1], "gridWidth": 1, "gridOpacity": 1, "labels": false, "ticks": false, "domain": false, "zindex": 2}},
     "y2": {"field": "g"}}},
  {"mark": {"type": "area", "interpolate": "step-after", "color": "#7c7c7c", "opacity": 1, "clip": true},
   "encoding": {
     "x": {"field": "t", "type": "temporal",
       "scale": {"type": "utc", "nice": false, "domain": [{"year": 2026, "month": 4, "date": 2, "hours": 6, "minutes": 8, "seconds": 58, "utc": true}, {"year": 2026, "month": 4, "date": 12, "hours": 6, "minutes": 8, "seconds": 58, "utc": true}]},
       "axis": {"orient": "bottom", "title": null, "grid": false, "labels": false, "ticks": false, "domain": true, "domainColor": "black", "domainWidth": 1, "zindex": 3}},
     "y": {"field": "c", "type": "quantitative", "scale": {"domain": [0, 4.4444], "nice": false, "zero": false},
       "axis": {"orient": "left", "title": "Seconds", "titleFont": "DejaVu Sans Mono", "titleFontSize": 11.6, "titleFontWeight": "normal", "titleColor": "black", "titleAngle": -90, "titleAlign": "center", "titleBaseline": "middle", "titleX": -56, "titleY": 100,
         "grid": false, "labels": false, "ticks": false, "domain": true, "domainColor": "black", "domainWidth": 1, "zindex": 3}},
     "y2": {"field": "f"}}},
  {"mark": {"type": "area", "interpolate": "step-after", "color": "#3c3c3c", "opacity": 1, "clip": true},
   "encoding": {"y": {"field": "d", "type": "quantitative", "scale": {"domain": [0, 4.4444], "nice": false, "zero": false}, "axis": null}, "y2": {"field": "e"}}},
  {"mark": {"type": "line", "interpolate": "step-after", "color": "black", "strokeWidth": 1, "opacity": 1, "clip": true},
   "encoding": {"y": {"field": "m", "type": "quantitative", "scale": {"domain": [0, 4.4444], "nice": false, "zero": false},
     "axis": {"orient": "right", "title": "RRDTOOL / TOBI OETIKER", "labels": false, "ticks": false, "domain": false, "grid": false,
       "titleFont": "DejaVu Sans Mono", "titleFontSize": 8.3, "titleFontWeight": "normal", "titleColor": "#c0c0c0", "titleAngle": 90, "titleAlign": "left", "titleBaseline": "middle", "titleX": 22, "titleY": -23}}}},
  {"mark": {"type": "tick", "orient": "horizontal", "size": 4, "thickness": 3, "xOffset": 1.875, "opacity": 1, "clip": true},
   "encoding": {"y": {"field": "m", "type": "quantitative", "scale": {"domain": [0, 4.4444], "nice": false, "zero": false}, "axis": null},
     "color": {"field": "l", "type": "nominal",
       "scale": {"domain": ["0", "1", "2", "3", "4-5", "6-10", "11-19", "20/20"], "range": ["#26ff00", "#00b8ff", "#0059ff", "#7e00ff", "#ff00ff", "#ff5500", "#ff0000", "#a10000"]},
       "legend": {"title": null, "orient": "none", "legendX": 37.5, "legendY": 247, "direction": "horizontal", "padding": 0,
         "labelFont": "DejaVu Sans Mono", "labelFontSize": 11.6, "labelColor": "black", "labelOffset": 6,
         "symbolType": "square", "symbolSize": 49, "symbolStrokeColor": "black", "symbolStrokeWidth": 1, "symbolOpacity": 1, "columnPadding": 12}}}},
  {"data": {"values": [{}]},
   "mark": {"type": "rule", "color": "black", "strokeWidth": 1, "clip": false},
   "encoding": {
     "x": {"datum": {"year": 2026, "month": 4, "date": 2, "hours": 6, "minutes": 8, "seconds": 58, "utc": true}, "type": "temporal",
       "scale": {"type": "utc", "nice": false, "domain": [{"year": 2026, "month": 4, "date": 2, "hours": 6, "minutes": 8, "seconds": 58, "utc": true}, {"year": 2026, "month": 4, "date": 12, "hours": 6, "minutes": 8, "seconds": 58, "utc": true}]}, "axis": null},
     "y": {"datum": 4.4444, "type": "quantitative", "scale": {"domain": [0, 4.4444], "nice": false, "zero": false}, "axis": null},
     "y2": {"datum": 4.56}}},
  {"data": {"values": [{}]},
   "mark": {"type": "rule", "color": "black", "strokeWidth": 1, "clip": false},
   "encoding": {
     "x": {"datum": {"year": 2026, "month": 4, "date": 12, "hours": 6, "minutes": 8, "seconds": 58, "utc": true}, "type": "temporal",
       "scale": {"type": "utc", "nice": false, "domain": [{"year": 2026, "month": 4, "date": 2, "hours": 6, "minutes": 8, "seconds": 58, "utc": true}, {"year": 2026, "month": 4, "date": 12, "hours": 6, "minutes": 8, "seconds": 58, "utc": true}]}, "axis": null},
     "x2": {"datum": {"year": 2026, "month": 4, "date": 12, "hours": 7, "minutes": 20, "utc": true}},
     "y": {"datum": 0, "type": "quantitative", "scale": {"domain": [0, 4.4444], "nice": false, "zero": false}, "axis": null}}},
  {"data": {"values": [{}]},
   "mark": {"type": "point", "shape": "triangle-up", "filled": true, "color": "#8b1010", "size": 30, "opacity": 1, "clip": false},
   "encoding": {
     "x": {"datum": {"year": 2026, "month": 4, "date": 2, "hours": 6, "minutes": 8, "seconds": 58, "utc": true}, "type": "temporal",
       "scale": {"type": "utc", "nice": false, "domain": [{"year": 2026, "month": 4, "date": 2, "hours": 6, "minutes": 8, "seconds": 58, "utc": true}, {"year": 2026, "month": 4, "date": 12, "hours": 6, "minutes": 8, "seconds": 58, "utc": true}]}, "axis": null},
     "y": {"datum": 4.56, "type": "quantitative", "scale": {"domain": [0, 4.4444], "nice": false, "zero": false}, "axis": null}}},
  {"data": {"values": [{}]},
   "mark": {"type": "point", "shape": "triangle-right", "filled": true, "color": "#8b1010", "size": 30, "opacity": 1, "clip": false},
   "encoding": {
     "x": {"datum": {"year": 2026, "month": 4, "date": 12, "hours": 7, "minutes": 57, "utc": true}, "type": "temporal",
       "scale": {"type": "utc", "nice": false, "domain": [{"year": 2026, "month": 4, "date": 2, "hours": 6, "minutes": 8, "seconds": 58, "utc": true}, {"year": 2026, "month": 4, "date": 12, "hours": 6, "minutes": 8, "seconds": 58, "utc": true}]}, "axis": null},
     "y": {"datum": 0, "type": "quantitative", "scale": {"domain": [0, 4.4444], "nice": false, "zero": false}, "axis": null}}}
],
"resolve": {"axis": {"x": "independent", "y": "independent"}},
"config": {"view": {"fill": "white", "stroke": null}}
}
